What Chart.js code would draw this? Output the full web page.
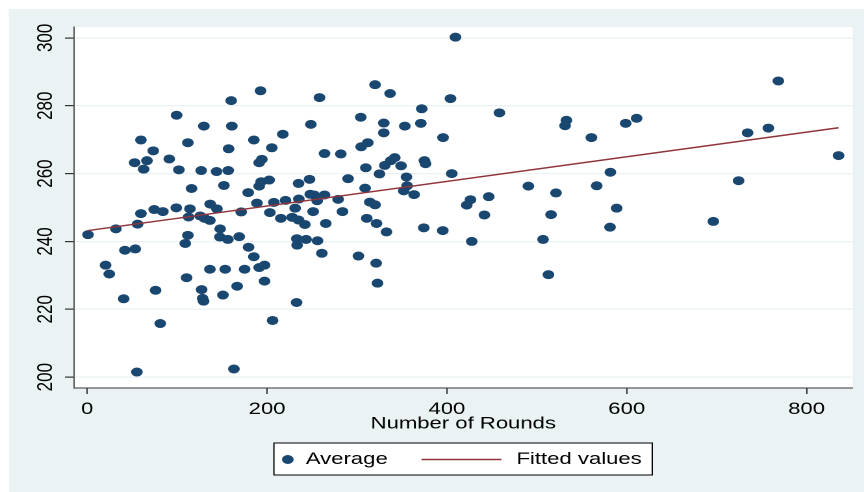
<!DOCTYPE html>
<html>
<head>
<meta charset="utf-8">
<title>Average vs Number of Rounds</title>
<script src="https://cdn.jsdelivr.net/npm/chart.js@4.4.1/dist/chart.umd.min.js"></script>
<style>
  html, body { margin: 0; padding: 0; background: #fff; overflow: hidden; }
  /* the original graph is a horizontally stretched Stata export */
  #wrap { width: 665px; height: 492px; transform: scaleX(1.2993); transform-origin: 0 0; }
</style>
</head>
<body>
<div id="wrap"><canvas id="chart" width="665" height="492"></canvas></div>
<script>
/* ── Data ─────────────────────────────────────────────── */
const rounds = [0.8, 20.4, 24.5, 31.9, 41.9, 53.4, 40.5, 55.2, 76, 81.2,
  52.7, 59.7, 62.7, 66.4, 73.4, 56, 59.7, 74.5, 84.1, 91.2,
  99.4, 101.9, 99, 111.9, 116, 114.2, 112.7, 111.9, 109, 110.5,
  129.7, 126.7, 136.7, 125.6, 130.5, 136.4, 144.2, 143.8, 152, 147.8,
  147.5, 156.4, 156.8, 157.2, 160.1, 160.8, 169, 171.2, 179, 185.3,
  188.7, 192.7, 191.2, 193.4, 191.2, 194.2, 202.3, 205.3, 217.5, 203.1,
  207.5, 215.3, 220.5, 227.9, 231.2, 235, 235.3, 235, 233.1, 179.4,
  136.4, 127.2, 128.3, 129.4, 153.4, 150.9, 166.7, 175, 185.3, 191.2,
  197.2, 197.2, 206.1, 163.1, 232.8, 233.4, 258.3, 248.7, 263.9, 282,
  304.2, 320.1, 336.8, 329.8, 329.8, 312, 304.6, 353.2, 372, 371,
  395.7, 404, 409.5, 458.4, 531.4, 532.9, 309.8, 325, 330.9, 337.6,
  342, 349, 355, 375, 376.2, 405.4, 290.1, 309, 355.7, 352,
  363.5, 490.6, 521.3, 446.5, 426.2, 422.1, 441.7, 515.8, 247.2, 248,
  252.3, 255.7, 263.9, 279, 251.2, 283.9, 242, 265.3, 310.9, 321.7,
  332.8, 374.3, 395.4, 427.6, 506.9, 243.4, 256.1, 260.9, 301.6, 321.3,
  322.8, 512.9, 560.7, 598.8, 611, 581.8, 566.6, 588.8, 581.4, 696.3,
  724.4, 734.4, 757.5, 768.6, 835.6, 314.3, 320.1];

const average = [242.0, 233.0, 230.4, 243.7, 237.4, 237.8, 223.1, 201.5, 225.6, 215.8,
  263.2, 269.9, 261.3, 263.8, 266.7, 245.1, 248.2, 249.4, 248.8, 264.3,
  277.2, 261.1, 249.9, 269.1, 255.6, 249.6, 247.2, 241.8, 239.4, 229.3,
  274.0, 260.9, 251.0, 247.5, 246.8, 246.2, 249.6, 260.6, 256.5, 243.7,
  241.3, 240.6, 260.9, 267.3, 281.5, 274.0, 241.4, 248.7, 254.4, 269.9,
  251.3, 284.4, 256.3, 257.6, 263.2, 264.2, 258.1, 267.6, 271.6, 248.5,
  251.5, 246.8, 252.1, 247.1, 249.8, 257.1, 252.5, 246.3, 240.8, 238.3,
  231.8, 225.8, 223.2, 222.4, 231.8, 224.2, 226.8, 231.8, 235.5, 232.3,
  233.0, 228.3, 216.7, 202.4, 222.0, 238.9, 282.4, 274.5, 265.9, 265.8,
  276.6, 286.2, 283.6, 274.9, 272.0, 269.1, 267.9, 274.0, 279.1, 274.8,
  270.6, 282.1, 300.2, 277.9, 274.1, 275.7, 261.7, 259.9, 262.4, 263.8,
  264.7, 262.3, 259.0, 263.8, 262.9, 260.0, 258.5, 255.7, 256.4, 254.9,
  253.8, 256.3, 254.3, 253.2, 252.3, 250.7, 247.8, 247.9, 258.3, 253.9,
  253.7, 252.0, 253.7, 252.4, 248.8, 248.8, 245.0, 245.3, 246.8, 245.3,
  242.8, 244.0, 243.2, 240.0, 240.6, 240.6, 240.2, 236.5, 235.7, 233.6,
  227.7, 230.2, 270.6, 274.8, 276.3, 260.4, 256.4, 249.8, 244.2, 245.9,
  257.9, 272.0, 273.4, 287.3, 265.3, 251.6, 250.8];

// fitted values (ends of the lfit line)
const fitRounds = [0.8, 835.6];
const fitValues = [243.2, 273.5];

const xTicks = [0, 200, 400, 600, 800];
const yTicks = [200, 220, 240, 260, 280, 300];

const NAVY = '#1A476F';
const MAROON = '#90353B';
const PANEL = '#EAF2F3';

/* ── Plugins ──────────────────────────────────────────── */
const panelBg = {
  id: 'panelBg',
  beforeDraw(chart) {
    const { ctx, chartArea: a, width, height } = chart;
    ctx.save();
    ctx.fillStyle = '#fff';
    ctx.fillRect(0, 0, width, height);
    ctx.fillStyle = PANEL;
    ctx.fillRect(6.9, 9, width - 6.9, height - 9);
    ctx.fillStyle = '#fff';
    ctx.fillRect(a.left, a.top, a.right - a.left, a.bottom - a.top);
    ctx.restore();
  }
};

// Stata style legend: framed box under the axis title
const boxLegend = {
  id: 'boxLegend',
  afterDraw(chart) {
    const ctx = chart.ctx;
    const ds = chart.data.datasets;
    const y = 459.5;
    ctx.save();
    ctx.fillStyle = '#fff';
    ctx.fillRect(210.8, 443, 291.2, 32);
    ctx.strokeStyle = '#000';
    ctx.lineWidth = 1;
    ctx.strokeRect(210.8, 443, 291.2, 32);

    ctx.fillStyle = ds[0].backgroundColor;
    ctx.beginPath();
    ctx.arc(221.5, y, ds[0].pointRadius, 0, Math.PI * 2);
    ctx.fill();

    ctx.strokeStyle = ds[1].borderColor;
    ctx.lineWidth = ds[1].borderWidth;
    ctx.beginPath();
    ctx.moveTo(324.4, y);
    ctx.lineTo(385.9, y);
    ctx.stroke();

    ctx.fillStyle = '#000';
    ctx.font = '17px "Liberation Sans"';
    ctx.textBaseline = 'middle';
    ctx.textAlign = 'left';
    ctx.fillText(ds[0].label, 235.4, y);
    ctx.fillText(ds[1].label, 397.5, y);
    ctx.restore();
  }
};

/* ── Chart ────────────────────────────────────────────── */
Chart.defaults.font.family = '"Liberation Sans", Arial, sans-serif';
Chart.defaults.font.size = 17;
Chart.defaults.color = '#000';

new Chart(document.getElementById('chart'), {
  type: 'scatter',
  data: {
    datasets: [
      {
        label: 'Average',
        data: rounds.map((r, i) => ({ x: r, y: average[i] })),
        backgroundColor: NAVY,
        borderWidth: 0,
        pointRadius: 4.5,
        order: 2
      },
      {
        type: 'line',
        label: 'Fitted values',
        data: fitRounds.map((r, i) => ({ x: r, y: fitValues[i] })),
        borderColor: MAROON,
        borderWidth: 1.5,
        pointRadius: 0,
        fill: false,
        order: 1
      }
    ]
  },
  options: {
    responsive: false,
    animation: false,
    devicePixelRatio: 2,
    layout: { padding: { top: 27, right: 8.8, left: 0, bottom: 0 } },
    plugins: {
      legend: { display: false },
      tooltip: { enabled: false }
    },
    scales: {
      x: {
        type: 'linear',
        min: -14.8,
        max: 851.2,
        afterBuildTicks: s => { s.ticks = xTicks.map(v => ({ value: v })); },
        afterFit: s => { s.height = 104; },
        grid: { drawOnChartArea: false, tickLength: 6, tickColor: '#333' },
        border: { color: '#333', width: 1 },
        ticks: { padding: 5 },
        title: {
          display: true,
          text: 'Number of Rounds',
          padding: { top: 0, bottom: 57.8 }
        }
      },
      y: {
        min: 196.8,
        max: 303.2,
        afterBuildTicks: s => { s.ticks = yTicks.map(v => ({ value: v })); },
        afterFit: s => { s.width = 56.9; },
        grid: { color: PANEL, lineWidth: 1.2, tickLength: 6.9, tickColor: '#333' },
        border: { color: '#555', width: 1 },
        ticks: { minRotation: 90, maxRotation: 90, crossAlign: 'center', padding: 0.5 }
      }
    }
  },
  plugins: [panelBg, boxLegend]
});
</script>
</body>
</html>
